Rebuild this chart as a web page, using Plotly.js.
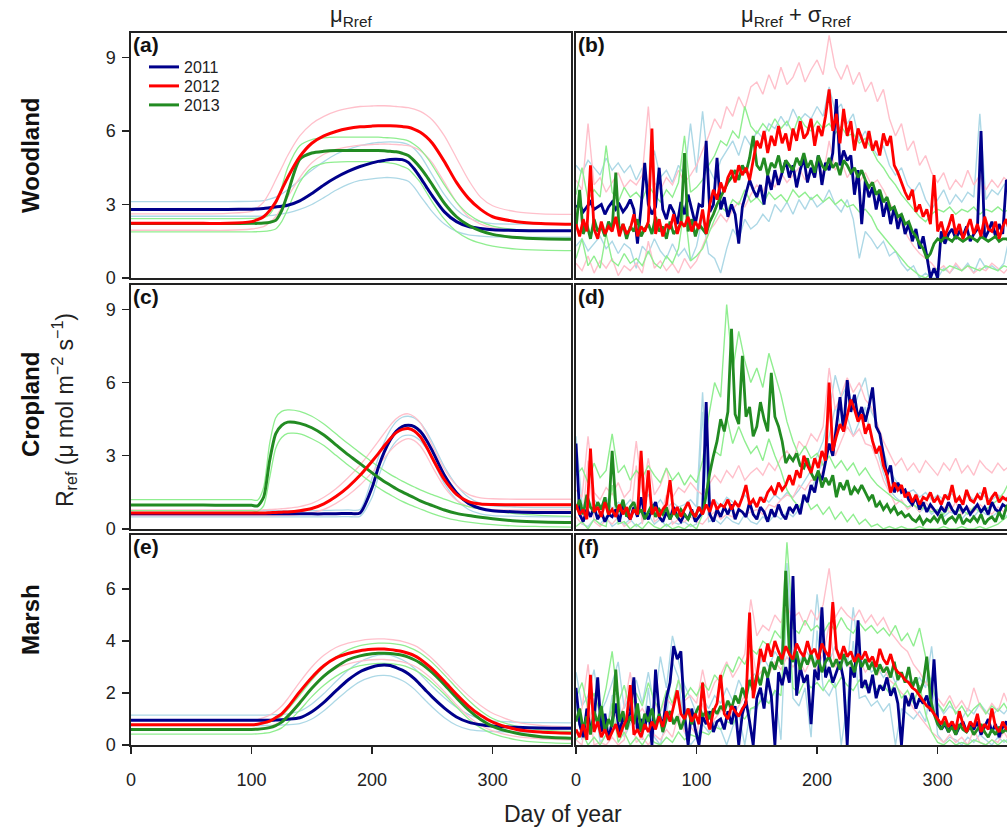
<!DOCTYPE html>
<html><head><meta charset="utf-8">
<script src="https://cdn.plot.ly/plotly-3.0.1.min.js"></script>
<style>html,body{margin:0;padding:0;overflow:hidden;background:#fff}#chart{width:1020px;height:831px}</style>
</head><body><div id="chart"></div>
<script>
const YEARS = ['2011', '2012', '2013'];
const YEAR_COLORS = ['#00008B', '#FF0000', '#228B22'];
const BAND_COLORS = ['#ADD8E6', '#FFC0CB', '#90EE90'];
const X_TICKS = [0, 100, 200, 300];

// ---------- smooth (mu_Rref) curves, day grid ----------
const DAYS_SMOOTH = [0,20,40,60,80,100,105,110,115,120,125,130,140,150,160,170,180,190,200,205,210,215,220,225,230,235,240,245,250,260,270,280,290,300,320,340,365];

// Woodland (a)
const woodMu2011   = [2.80,2.80,2.80,2.80,2.80,2.81, 2.82,2.84,2.87,2.90,2.93,2.97, 3.15,3.45,3.80,4.10,4.35,4.55,4.70, 4.76,4.80,4.84,4.85,4.83,4.72,4.45,4.10,3.72,3.35, 2.70,2.30,2.10,2.02,1.97, 1.94,1.93,1.93];
const woodMu2011Hi = [3.12,3.12,3.12,3.12,3.12,3.13, 3.14,3.16,3.22,3.30,3.43,3.60, 4.00,4.40,4.75,5.05,5.25,5.40,5.50, 5.53,5.55,5.56,5.55,5.52,5.45,5.28,5.00,4.62,4.20, 3.40,2.80,2.45,2.30,2.22, 2.20,2.20,2.20];
const woodMu2011Lo = [2.52,2.52,2.52,2.52,2.52,2.52, 2.52,2.53,2.55,2.58,2.62,2.66, 2.80,3.00,3.28,3.58,3.82,3.98,4.05, 4.08,4.10,4.10,4.08,4.03,3.95,3.70,3.35,3.02,2.70, 2.20,1.90,1.76,1.71,1.68, 1.67,1.67,1.67];
const woodMu2012   = [2.23,2.23,2.23,2.23,2.23,2.30, 2.38,2.50,2.75,3.10,3.60,4.10, 4.95,5.50,5.80,5.98,6.10,6.17,6.20, 6.21,6.21,6.21,6.20,6.18,6.15,6.07,5.95,5.76,5.50, 4.75,3.90,3.25,2.80,2.50, 2.30,2.22,2.19];
const woodMu2012Hi = [2.62,2.62,2.62,2.62,2.64,2.72, 2.88,3.10,3.50,4.00,4.50,5.00, 5.80,6.30,6.60,6.80,6.92,7.00,7.02, 7.03,7.03,7.02,7.00,6.98,6.95,6.89,6.80,6.65,6.45, 5.80,4.90,4.00,3.30,2.95, 2.70,2.62,2.60];
const woodMu2012Lo = [1.95,1.95,1.95,1.95,1.95,2.00, 2.04,2.10,2.26,2.50,2.88,3.30, 4.10,4.70,5.05,5.25,5.35,5.42,5.45, 5.46,5.47,5.46,5.45,5.43,5.40,5.32,5.20,4.98,4.70, 3.90,3.10,2.50,2.20,2.05, 1.95,1.92,1.90];
const woodMu2013   = [2.22,2.22,2.22,2.22,2.22,2.23, 2.23,2.24,2.27,2.35,2.75,3.45, 4.85,5.10,5.17,5.20,5.20,5.20,5.20, 5.20,5.19,5.17,5.15,5.09,5.00,4.78,4.50,4.17,3.80, 3.05,2.50,2.15,1.92,1.78, 1.65,1.60,1.58];
const woodMu2013Hi = [2.42,2.42,2.42,2.42,2.42,2.43, 2.44,2.46,2.60,3.00,3.70,4.50, 5.40,5.65,5.72,5.75,5.75,5.75,5.75, 5.75,5.73,5.72,5.70,5.66,5.60,5.45,5.25,4.95,4.60, 3.80,3.10,2.60,2.30,2.12, 1.97,1.92,1.90];
const woodMu2013Lo = [1.88,1.88,1.88,1.88,1.88,1.88, 1.89,1.90,1.93,2.00,2.30,2.80, 3.90,4.50,4.68,4.73,4.75,4.75,4.75, 4.74,4.72,4.69,4.65,4.56,4.45,4.20,3.90,3.50,3.10, 2.40,1.90,1.60,1.42,1.30, 1.18,1.14,1.12];

// Cropland (c)
const cropMu2011   = [0.62,0.62,0.62,0.62,0.62,0.62, 0.62,0.62,0.62,0.62,0.62,0.62, 0.62,0.62,0.62,0.63,0.64,0.66,1.70, 2.50,3.15,3.65,4.00,4.20,4.25,4.20,4.00,3.65,3.20, 2.20,1.49,1.05,0.84,0.75, 0.70,0.68,0.68];
const cropMu2011Hi = [0.75,0.75,0.75,0.75,0.75,0.75, 0.75,0.75,0.75,0.75,0.75,0.75, 0.75,0.75,0.76,0.77,0.78,0.80,2.10, 2.90,3.55,4.05,4.40,4.58,4.62,4.55,4.35,4.00,3.55, 2.55,1.80,1.30,1.05,0.95, 0.90,0.88,0.88];
const cropMu2011Lo = [0.50,0.50,0.50,0.50,0.50,0.50, 0.50,0.50,0.50,0.50,0.50,0.50, 0.50,0.50,0.50,0.50,0.51,0.52,1.30, 2.10,2.75,3.25,3.60,3.80,3.85,3.80,3.62,3.30,2.85, 1.85,1.20,0.80,0.62,0.55, 0.52,0.50,0.50];
const cropMu2012   = [0.66,0.66,0.66,0.66,0.66,0.66, 0.66,0.66,0.67,0.68,0.69,0.70, 0.75,0.84,1.03,1.33,1.72,2.20,2.78, 3.08,3.40,3.70,3.95,4.08,4.12,4.02,3.78,3.38,2.90, 2.02,1.42,1.12,1.02,1.00, 0.99,0.99,0.99];
const cropMu2012Hi = [0.78,0.78,0.78,0.78,0.78,0.78, 0.78,0.79,0.80,0.81,0.83,0.85, 0.92,1.05,1.30,1.65,2.10,2.62,3.25, 3.58,3.92,4.25,4.52,4.68,4.72,4.60,4.35,3.92,3.42, 2.45,1.78,1.42,1.28,1.24, 1.22,1.22,1.22];
const cropMu2012Lo = [0.55,0.55,0.55,0.55,0.55,0.55, 0.55,0.55,0.55,0.55,0.56,0.56, 0.60,0.66,0.80,1.05,1.38,1.80,2.32, 2.60,2.90,3.20,3.45,3.62,3.70,3.62,3.40,3.02,2.55, 1.72,1.18,0.92,0.82,0.79, 0.78,0.78,0.78];
const cropMu2013   = [0.98,0.98,0.98,0.98,0.97,0.97, 0.95,1.30,2.80,3.90,4.25,4.38, 4.33,4.15,3.85,3.45,3.05,2.68,2.30, 2.12,1.95,1.80,1.65,1.52,1.40,1.28,1.15,1.05,0.96, 0.78,0.64,0.55,0.48,0.42, 0.33,0.29,0.27];
const cropMu2013Hi = [1.20,1.20,1.20,1.20,1.20,1.20, 1.18,1.70,3.50,4.55,4.82,4.88, 4.82,4.62,4.30,3.90,3.50,3.12,2.75, 2.57,2.40,2.24,2.10,1.96,1.84,1.72,1.60,1.50,1.41, 1.22,1.05,0.92,0.82,0.74, 0.62,0.56,0.52];
const cropMu2013Lo = [0.75,0.75,0.75,0.75,0.75,0.75, 0.73,0.95,2.10,3.30,3.75,3.92, 3.90,3.70,3.42,3.02,2.62,2.25,1.88, 1.70,1.54,1.40,1.26,1.13,1.02,0.92,0.82,0.72,0.63, 0.48,0.36,0.28,0.22,0.18, 0.12,0.10,0.08];

// Marsh (e)
const marshMu2011   = [0.95,0.95,0.95,0.95,0.95,0.95, 0.95,0.95,0.95,0.96,0.97,0.99, 1.05,1.28,1.64,2.08,2.50,2.82,3.00, 3.06,3.08,3.06,2.98,2.88,2.74,2.55,2.32,2.08,1.84, 1.42,1.08,0.88,0.78,0.73, 0.68,0.65,0.64];
const marshMu2011Hi = [1.15,1.15,1.15,1.15,1.15,1.15, 1.15,1.15,1.16,1.17,1.18,1.20, 1.30,1.58,1.98,2.44,2.88,3.20,3.40, 3.46,3.48,3.46,3.38,3.28,3.14,2.95,2.72,2.48,2.24, 1.82,1.45,1.18,1.00,0.93, 0.88,0.86,0.85];
const marshMu2011Lo = [0.75,0.75,0.75,0.75,0.75,0.75, 0.75,0.75,0.75,0.76,0.77,0.78, 0.82,1.00,1.32,1.72,2.12,2.44,2.62, 2.67,2.68,2.66,2.58,2.48,2.34,2.15,1.92,1.68,1.45, 1.05,0.76,0.60,0.54,0.52, 0.50,0.48,0.46];
const marshMu2012   = [0.78,0.78,0.78,0.78,0.78,0.78, 0.80,0.85,0.92,1.05,1.20,1.45, 2.05,2.60,3.05,3.35,3.52,3.63,3.68, 3.69,3.69,3.67,3.64,3.60,3.53,3.44,3.30,3.12,2.92, 2.45,1.95,1.50,1.14,0.88, 0.60,0.50,0.45];
const marshMu2012Hi = [0.95,0.95,0.95,0.95,0.95,0.95, 0.98,1.05,1.15,1.30,1.50,1.78, 2.42,3.00,3.45,3.75,3.92,4.02,4.07, 4.08,4.08,4.06,4.03,3.99,3.92,3.83,3.70,3.52,3.32, 2.85,2.35,1.90,1.52,1.22, 0.88,0.75,0.70];
const marshMu2012Lo = [0.60,0.60,0.60,0.60,0.60,0.60, 0.62,0.66,0.70,0.80,0.92,1.12, 1.68,2.20,2.65,2.95,3.12,3.23,3.28, 3.29,3.29,3.27,3.24,3.20,3.13,3.04,2.90,2.72,2.52, 2.05,1.55,1.10,0.76,0.54, 0.32,0.24,0.20];
const marshMu2013   = [0.60,0.60,0.60,0.60,0.60,0.60, 0.61,0.63,0.67,0.75,0.88,1.10, 1.62,2.18,2.65,3.00,3.28,3.43,3.51, 3.53,3.53,3.52,3.49,3.45,3.38,3.28,3.15,2.98,2.78, 2.32,1.82,1.35,0.98,0.72, 0.45,0.32,0.26];
const marshMu2013Hi = [0.78,0.78,0.78,0.78,0.78,0.78, 0.80,0.83,0.88,0.98,1.12,1.36, 1.92,2.50,3.00,3.38,3.66,3.82,3.90, 3.92,3.92,3.91,3.88,3.84,3.77,3.67,3.54,3.37,3.17, 2.70,2.20,1.72,1.32,1.02, 0.72,0.58,0.52];
const marshMu2013Lo = [0.42,0.42,0.42,0.42,0.42,0.42, 0.43,0.45,0.48,0.55,0.66,0.86, 1.34,1.86,2.30,2.64,2.90,3.05,3.12, 3.14,3.14,3.13,3.10,3.06,2.99,2.89,2.76,2.59,2.39, 1.95,1.46,1.00,0.66,0.44, 0.20,0.10,0.06];

// ---------- daily (mu + sigma) series ----------
const DAILY_STEP = 3;   // bold series: every 3rd day, 0..363
const BAND_STEP = 5;    // light series: every 5th day, 0..365

// Woodland (b)
const woodDay2011 = [2.9,3.0,2.7,2.9,3.1,2.8,2.9,3.0,2.6,2.9, 3.1,2.8,3.0,2.7,2.9,3.2,2.8,1.4,2.9,4.7, 3.0,2.6,2.9,4.5,2.8,2.4,3.0,2.7,2.2,3.1, 2.6,3.4,2.8,2.2,3.0,2.9,5.6,2.7,3.0,4.9, 2.8,3.3,2.5,3.0,2.6,1.4,2.9,3.4,4.0,3.6, 3.3,3.8,3.0,4.2,3.6,4.4,3.8,4.3,4.8,4.1, 4.6,3.7,4.4,4.9,3.9,4.5,4.1,5.0,3.8,4.7, 4.4,5.1,7.3,4.6,5.2,4.8,5.0,3.4,4.4,2.2, 4.0,3.3,3.7,2.8,3.5,2.5,3.1,2.2,2.9,2.0, 2.6,1.8,2.2,1.5,2.0,1.2,1.7,0.9,0.0,0.4, 0.0,1.9,1.4,1.8,2.0,1.6,1.9,1.7,2.1,1.5, 1.8,2.0,6.0,1.6,1.9,2.3,1.7,2.2,1.8,4.0, 3.8,2.6];
const woodDay2012 = [2.2,1.7,2.4,1.9,4.6,2.0,1.6,2.3,1.8,2.1, 1.9,2.5,1.7,2.2,1.8,2.0,2.6,1.7,2.1,1.9, 2.3,6.1,1.8,2.4,1.7,2.2,2.0,2.6,1.8,2.3, 2.1,2.5,1.9,2.3,2.0,2.8,1.8,3.0,3.6,3.2, 3.9,3.5,4.1,4.4,3.9,4.6,4.2,4.5,4.0,4.8, 5.6,5.3,6.0,5.1,5.8,5.4,6.2,5.5,5.9,5.2, 6.1,5.6,6.4,5.7,5.9,6.5,5.4,6.2,5.8,6.6, 7.7,6.0,6.7,5.5,6.9,5.8,6.4,5.2,6.1,5.7, 5.3,6.0,5.2,5.6,5.0,5.9,5.4,5.8,4.6,4.3, 3.9,3.5,3.2,3.6,2.7,3.0,2.5,2.8,2.2,4.2, 1.9,2.3,1.7,2.1,2.6,1.8,2.2,1.6,2.0,2.4, 1.8,2.2,1.7,2.5,2.0,1.9,2.3,1.6,2.1,2.4, 1.8,2.2];
const woodDay2013 = [2.0,3.6,1.8,2.2,1.6,2.4,1.9,2.1,1.7,2.3, 2.0,4.3,1.8,2.2,1.6,2.1,1.9,2.4,1.7,2.0, 2.2,1.8,2.5,1.9,2.1,1.6,2.3,1.8,2.0,2.2, 5.1,1.9,2.4,1.7,2.2,2.0,1.8,2.3,2.6,3.0, 3.3,3.6,3.9,4.1,4.4,4.0,4.6,4.3,4.9,5.8, 4.6,4.4,4.9,4.2,4.7,4.5,5.0,4.3,4.8,4.6, 4.4,4.9,4.6,5.1,4.5,4.8,4.3,5.0,4.6,4.4, 4.9,4.5,4.7,4.2,4.8,4.6,4.3,4.5,4.1,4.4, 4.0,3.7,3.9,3.4,3.6,3.1,3.3,2.8,2.9,2.5, 2.6,2.2,2.3,1.9,1.7,1.4,1.2,0.8,1.0,1.4, 1.6,1.5,1.7,1.6,1.5,1.7,1.6,1.5,1.6,1.7, 1.6,1.5,1.7,1.6,1.5,1.6,1.7,1.5,1.6,1.6, 1.5,1.6];
const woodDay2011Hi = [4.6,4.3,4.8,4.5,4.2,4.9,4.4,4.7,4.3,4.6, 4.0,4.5,3.8,5.2,4.1,4.4,3.9,4.6,4.2,6.3, 4.3,6.8,4.5,4.0,4.8,5.2,5.6,5.0,5.8,5.4, 6.0,5.7,6.3,6.1,6.6,6.2,6.9,6.4,6.7,6.5, 7.0,6.6,7.8,6.8,7.1,6.3,6.7,5.6,6.0,5.4, 5.0,5.4,4.6,4.2,4.5,3.8,3.5,3.9,3.2,2.8, 3.2,3.6,3.0,3.4,3.1,3.5,3.3,6.7,3.2,3.6, 3.4,3.8,4.0,3.6];
const woodDay2011Lo = [1.3,1.6,1.1,1.4,1.7,1.2,1.5,1.0,1.4,1.2, 0.4,1.3,1.0,1.6,1.1,0.8,1.4,0.9,1.2,0.7, 1.3,2.5,1.0,0.8,0.2,1.2,2.0,1.6,2.4,2.0, 2.2,2.6,2.3,3.0,2.7,3.1,2.6,3.2,2.8,3.3, 2.9,3.1,3.6,3.0,2.7,3.2,2.4,0.8,1.9,1.6, 1.2,1.5,0.9,1.1,0.6,0.3,0.5,0.0,0.2,0.0, 0.0,0.4,0.2,0.5,0.3,0.6,0.2,0.8,0.4,0.5, 0.3,0.6,1.8,1.0];
const woodDay2012Hi = [4.0,3.6,6.3,3.8,4.1,3.5,3.9,4.3,3.7,4.0, 3.8,4.2,7.0,3.9,3.6,4.1,3.8,4.4,3.9,4.2, 4.6,5.2,5.8,6.5,6.1,7.0,6.6,7.4,6.9,7.8, 8.0,7.5,8.3,7.7,8.6,7.9,8.2,8.8,8.0,8.5, 8.9,8.3,9.9,8.6,8.1,8.7,7.9,8.4,7.6,8.0, 7.2,7.7,6.5,5.8,6.3,5.2,5.6,4.6,5.0,4.3, 3.9,4.3,3.6,4.0,3.7,4.4,3.8,4.2,3.6,4.0, 3.7,4.1,3.9,3.6];
const woodDay2012Lo = [0.6,0.3,0.9,0.2,0.7,0.4,0.8,0.1,0.5,0.3, 0.6,0.2,1.5,0.4,0.7,0.3,0.6,0.2,0.8,0.4, 0.7,1.3,1.9,2.2,2.6,2.3,2.8,3.1,2.9,3.4, 3.8,3.5,4.1,3.7,4.3,3.9,4.2,4.5,4.0,4.4, 4.7,4.2,5.6,4.4,4.8,4.1,4.5,3.9,4.3,3.8, 4.0,3.6,3.1,2.6,2.2,1.7,1.3,1.0,0.8,0.6, 0.3,0.5,0.2,0.6,0.3,0.5,0.2,0.4,0.3,0.6, 0.4,0.2,0.5,0.3];
const woodDay2013Hi = [3.4,4.5,3.2,3.6,3.3,5.4,3.5,3.1,3.7,3.3, 3.5,3.2,3.8,3.4,3.1,3.6,3.3,3.9,5.8,3.5, 3.7,4.0,4.6,5.0,5.6,5.4,6.0,5.7,7.0,6.2, 5.9,6.3,6.0,6.5,6.1,6.4,5.9,6.6,6.2,6.0, 6.4,6.1,6.3,5.9,6.2,5.8,5.9,5.5,5.7,5.3, 4.8,4.5,4.1,3.8,3.4,3.1,2.8,2.5,2.3,2.6, 2.8,2.7,2.9,2.6,2.8,2.7,2.9,2.6,2.8,2.7, 2.9,2.7,2.8,2.6];
const woodDay2013Lo = [0.8,1.6,0.5,0.9,0.4,1.8,0.7,0.5,1.0,0.6, 0.8,0.5,1.1,0.6,0.4,0.9,0.6,1.2,2.9,0.7, 0.9,1.2,1.8,2.4,2.9,2.7,3.2,3.0,3.6,3.1, 3.3,3.0,3.5,3.2,3.4,3.1,3.6,3.3,3.5,3.2, 3.4,3.1,3.3,3.0,3.2,2.9,3.0,2.7,2.8,2.5, 2.0,1.7,1.4,1.1,0.8,0.5,0.3,0.1,0.0,0.2, 0.4,0.3,0.5,0.4,0.3,0.5,0.4,0.3,0.5,0.4, 0.3,0.5,0.4,0.3];

// Cropland (d)
const cropDay2011 = [3.5,0.6,0.3,0.8,0.5,0.9,0.4,0.7,0.3,0.6, 0.5,0.8,0.3,1.0,0.6,0.4,0.9,0.5,1.3,0.6, 0.4,0.8,1.1,0.5,0.3,0.7,0.4,0.9,0.5,0.3, 0.6,0.4,0.8,0.3,0.5,0.7,5.2,0.6,0.3,0.8, 0.5,0.9,0.6,1.0,0.4,0.8,0.7,0.5,1.1,0.6, 0.4,0.9,0.7,0.3,0.8,0.5,1.0,0.6,0.4,0.9, 0.7,1.0,0.6,1.4,1.1,1.8,1.5,2.3,2.0,2.8, 3.5,3.0,4.3,5.4,4.0,6.1,4.8,5.5,4.5,5.0, 4.4,5.0,5.8,4.2,3.9,3.0,2.2,2.6,1.5,1.9, 1.5,1.6,1.2,1.0,1.3,0.8,1.1,0.7,1.0,0.8, 0.6,0.9,0.7,1.1,0.8,0.6,1.0,0.7,0.9,0.6, 0.8,1.0,0.7,0.9,0.6,1.1,0.8,0.7,1.0,0.9, 0.6,0.8];
const cropDay2012 = [1.0,0.6,0.8,0.4,3.3,0.7,0.9,0.5,1.1,0.6, 0.8,0.5,1.0,0.6,0.9,0.4,0.8,0.6,3.2,0.7, 2.4,0.6,0.9,0.5,0.8,1.0,2.0,0.6,0.9,0.5, 0.8,1.1,0.7,0.5,0.9,0.6,1.0,0.7,1.2,0.8, 1.0,0.9,1.2,0.8,1.1,0.9,1.3,1.8,1.0,1.2, 0.9,1.3,1.1,1.5,1.7,1.4,1.9,1.6,1.8,2.2, 1.8,2.4,2.1,3.0,2.6,2.3,2.9,2.5,3.2,2.8, 6.0,3.2,3.8,4.3,4.0,4.7,5.3,4.9,4.4,4.7, 3.9,4.3,3.6,3.1,3.4,2.6,2.2,1.5,1.9,1.6, 1.8,1.3,1.5,1.1,1.4,1.0,1.3,1.2,1.5,1.1, 1.3,1.0,1.4,1.2,1.8,1.1,1.3,1.0,1.6,1.2, 1.1,1.4,1.2,1.7,1.0,1.3,1.5,1.1,1.3,1.2, 1.4,1.1];
const cropDay2013 = [0.8,1.2,0.6,1.4,0.9,0.7,1.1,0.8,1.3,0.6, 3.2,1.0,0.7,1.2,0.5,0.9,1.1,0.6,0.8,0.4, 0.7,1.0,0.5,0.8,0.6,0.9,0.4,0.7,0.5,0.8, 0.6,0.4,0.7,0.5,0.9,0.6,1.4,2.3,3.0,3.6, 4.5,4.0,4.8,8.2,4.7,4.3,7.1,4.6,5.0,3.8, 4.2,5.2,4.5,4.0,6.4,4.6,4.2,3.6,2.7,3.0, 2.8,3.1,2.6,2.5,2.9,2.3,2.0,2.4,1.7,2.1, 1.8,2.2,1.3,1.9,1.6,2.0,1.4,1.7,1.5,1.8, 1.5,1.2,1.4,0.9,1.1,0.8,1.0,0.7,0.9,0.6, 0.7,0.5,0.6,0.4,0.3,0.5,0.2,0.4,0.3,0.5, 0.3,0.6,0.2,0.4,0.5,0.3,0.6,0.2,0.4,0.3, 0.5,0.3,0.6,0.2,0.4,0.5,0.3,0.7,0.4,0.9, 1.1,1.4];
const cropDay2011Hi = [3.8,1.0,0.8,1.2,0.9,1.3,0.8,1.1,0.9,1.2, 0.8,1.1,1.4,0.9,1.2,0.8,1.1,0.9,1.0,1.2, 0.9,5.6,1.0,1.2,0.9,1.3,1.1,1.0,1.4,1.1, 1.0,1.3,1.1,1.4,1.2,1.5,1.3,1.6,2.0,2.4, 3.0,3.6,4.8,6.3,5.4,5.9,4.9,5.6,6.2,4.8, 4.3,3.2,2.4,2.0,1.7,1.5,1.6,1.3,1.5,1.2, 1.4,1.2,1.5,1.3,1.1,1.4,1.2,1.5,1.3,1.2, 1.4,1.2,1.3,1.1];
const cropDay2011Lo = [3.0,0.2,0.1,0.4,0.2,0.5,0.1,0.3,0.2,0.4, 0.1,0.3,0.6,0.2,0.4,0.1,0.3,0.2,0.3,0.1, 0.2,4.8,0.3,0.4,0.2,0.5,0.3,0.2,0.6,0.3, 0.2,0.5,0.3,0.6,0.4,0.7,0.5,0.8,1.2,1.6, 2.2,2.8,3.8,5.0,4.2,4.6,3.8,4.4,5.0,3.7, 3.2,2.3,1.6,1.3,1.1,0.9,1.0,0.7,0.9,0.6, 0.8,0.5,0.7,0.6,0.4,0.7,0.5,0.8,0.6,0.5, 0.7,0.5,0.6,0.4];
const cropDay2012Hi = [1.6,1.3,3.8,1.5,1.2,1.7,1.4,1.9,1.3,1.6, 3.6,1.5,2.9,1.4,1.8,2.5,1.3,1.7,1.5,1.9, 1.6,1.4,1.8,2.2,1.9,2.4,2.1,2.6,2.0,2.3, 2.5,2.2,2.7,2.4,2.9,3.2,2.8,3.6,3.3,3.9, 3.6,4.2,6.6,4.9,5.5,6.2,5.6,6.0,5.3,5.0, 4.3,3.6,3.1,2.6,2.9,2.4,2.7,2.3,2.8,2.5, 2.2,2.7,2.4,2.9,2.3,2.6,2.2,2.8,2.5,2.3, 2.7,2.4,2.6,2.2];
const cropDay2012Lo = [0.5,0.2,2.8,0.3,0.1,0.4,0.2,0.5,0.1,0.3, 2.6,0.2,1.8,0.3,0.5,1.4,0.2,0.4,0.3,0.5, 0.3,0.2,0.5,0.7,0.4,0.6,0.5,0.8,0.6,0.7, 0.8,0.6,1.0,0.9,1.2,1.4,1.3,1.8,1.6,2.0, 2.0,2.4,4.8,3.0,3.6,4.2,3.8,4.1,3.5,3.4, 2.8,2.0,1.5,1.0,1.2,0.8,1.0,0.7,1.1,0.8, 0.6,0.9,0.7,1.1,0.6,0.9,0.7,1.0,0.8,0.6, 0.9,0.7,0.8,0.6];
const cropDay2013Hi = [2.2,2.5,1.9,2.7,2.1,2.4,3.9,2.3,2.6,2.0, 2.4,2.1,2.6,2.2,1.9,2.5,2.0,2.3,1.8,2.2, 1.9,2.8,4.6,6.0,5.4,9.2,6.5,8.1,6.9,6.0, 6.6,5.8,7.2,6.3,5.5,4.4,3.6,3.0,3.4,2.9, 3.1,2.6,3.0,2.5,2.8,2.4,2.7,2.2,2.5,2.1, 1.8,1.6,1.4,1.2,1.1,0.9,1.0,0.8,0.9,0.7, 0.8,0.6,0.9,0.7,0.8,0.6,0.9,0.7,0.8,1.0, 1.2,1.5,2.0,2.4];
const cropDay2013Lo = [0.1,0.3,0.0,0.4,0.2,0.1,1.8,0.2,0.3,0.0, 0.2,0.0,0.3,0.1,0.0,0.2,0.0,0.1,0.0,0.2, 0.0,0.6,2.2,3.2,3.0,4.6,3.5,4.2,3.6,3.1, 3.4,2.8,3.7,3.0,2.4,1.6,1.2,0.9,1.3,0.8, 1.0,0.6,0.9,0.4,0.7,0.3,0.6,0.2,0.4,0.1, 0.2,0.0,0.1,0.0,0.1,0.0,0.0,0.1,0.0,0.0, 0.0,0.1,0.0,0.0,0.1,0.0,0.0,0.1,0.0,0.1, 0.2,0.4,0.6,0.9];

// Marsh (f)
const marshDay2011 = [2.2,0.8,0.3,1.4,0.6,1.0,2.6,0.5,1.2,0.2, 0.9,1.6,0.4,1.1,0.7,1.3,2.6,0.5,1.0,0.6, 1.5,0.0,2.9,1.2,0.7,1.8,2.4,3.8,3.3,3.6, 1.2,0.0,1.4,0.6,0.0,1.1,0.8,1.3,0.5,0.9, 1.0,0.6,1.3,0.8,1.5,0.0,1.2,1.7,0.9,0.0, 1.8,2.2,1.4,2.6,1.9,0.0,2.8,2.3,3.0,2.4, 6.5,1.9,3.0,2.4,2.7,0.8,2.9,2.5,5.3,2.6, 3.0,2.4,2.8,3.2,2.5,0.0,3.0,2.6,4.8,2.2, 2.5,2.0,2.7,1.8,2.3,2.1,2.6,1.9,2.2,1.6, 0.0,1.9,1.5,2.0,1.4,1.8,1.6,1.9,1.3,3.3, 1.0,0.6,0.8,0.5,0.9,0.4,0.7,0.9,0.5,0.8, 0.6,0.9,0.4,0.7,1.0,0.5,0.8,0.3,0.7,0.9, 0.5,0.6];
const marshDay2012 = [0.6,0.3,0.8,0.2,2.7,0.5,0.9,0.3,0.6,0.2, 0.5,0.8,0.3,0.7,1.0,2.3,0.4,0.6,0.3,0.8, 0.5,0.9,0.6,1.1,0.7,1.3,0.9,1.5,2.1,1.2, 1.0,1.4,0.9,1.2,0.8,2.4,1.1,0.6,1.3,1.6, 2.7,1.2,1.0,1.5,1.3,1.1,1.4,1.6,5.1,1.8, 2.6,3.7,3.2,3.9,3.4,4.0,3.6,3.3,3.8,3.5, 3.3,3.9,3.6,3.4,4.0,3.5,3.7,3.3,3.9,3.6, 3.4,5.5,3.7,3.3,3.8,3.4,3.6,3.2,3.5,3.3, 3.6,3.2,3.4,3.0,3.7,3.3,3.1,3.5,3.0,2.8, 2.7,2.5,2.4,2.2,2.1,1.9,1.7,1.5,1.4,1.2, 1.0,0.8,1.1,0.7,0.9,0.6,1.3,0.8,0.5,0.9, 0.7,1.2,0.5,0.8,0.6,1.4,0.7,0.5,0.9,0.6, 0.8,0.5];
const marshDay2013 = [0.9,1.4,0.6,1.1,0.4,1.3,0.8,1.5,0.5,1.0, 0.7,2.9,0.9,1.3,0.6,1.1,0.8,1.6,0.5,1.2, 0.9,1.4,0.7,1.2,0.5,1.0,1.3,0.8,1.1,0.6, 1.0,1.4,0.8,1.2,1.5,1.1,1.3,1.0,1.4,1.2, 1.5,1.3,1.7,1.4,1.9,1.6,2.2,1.8,2.5,2.1, 2.7,2.3,3.0,2.6,3.2,2.9,3.4,3.1,6.7,3.5, 3.2,3.6,2.9,3.4,3.1,3.5,3.0,3.3,2.8,3.2, 3.4,3.0,3.3,2.9,3.5,3.1,3.2,2.8,3.4,3.0, 3.3,2.9,3.2,2.7,3.1,2.8,3.0,2.6,3.2,2.5, 2.8,2.4,3.0,2.2,2.6,2.0,2.4,3.4,1.8,1.2, 0.8,0.6,0.9,0.5,0.7,0.4,0.8,0.6,0.5,0.7, 0.4,0.6,0.8,0.5,0.3,0.6,0.4,0.7,0.5,0.6, 0.4,0.5];
const marshDay2011Hi = [2.8,1.5,1.9,2.9,1.2,1.7,2.4,3.2,1.4,2.0, 2.5,1.6,2.8,1.5,3.4,2.2,4.2,3.3,2.3,1.8, 1.2,1.8,1.4,1.9,1.6,2.2,1.7,2.5,2.0,2.6, 2.8,3.4,3.0,3.6,3.2,7.0,3.4,3.1,3.7,3.3, 5.8,3.5,3.2,3.8,3.4,3.0,5.3,3.1,3.3,2.8, 3.0,2.6,2.9,2.4,2.7,2.5,2.3,2.6,2.2,3.8, 1.6,1.2,1.5,1.3,1.0,1.4,1.2,1.6,1.3,1.1, 1.4,1.2,1.5,1.3];
const marshDay2011Lo = [1.6,0.2,0.5,1.8,0.1,0.4,1.9,2.0,0.3,0.8, 1.3,0.2,2.2,0.3,0.0,1.0,3.2,2.6,0.5,0.0, 0.3,0.8,0.5,0.9,0.6,0.0,0.7,1.2,0.0,1.4, 1.4,2.0,1.6,2.1,0.2,5.6,1.8,1.5,2.2,0.3, 4.4,2.2,1.9,2.4,0.0,1.6,4.0,1.8,1.9,1.5, 1.7,1.3,1.6,0.0,1.4,1.2,1.0,1.3,0.9,2.6, 0.4,0.1,0.3,0.2,0.0,0.3,0.1,0.4,0.2,0.0, 0.3,0.1,0.3,0.2];
const marshDay2012Hi = [1.0,1.4,3.1,0.9,1.2,0.8,1.3,1.0,1.5,2.8, 1.1,1.4,1.0,1.6,1.3,1.8,1.5,2.5,1.7,1.9, 1.6,2.9,1.8,2.4,2.7,3.2,2.6,3.0,3.5,5.6, 4.2,4.6,4.4,5.0,4.7,5.3,4.9,5.1,4.6,5.2, 4.8,5.4,6.8,4.9,5.3,5.0,4.8,5.2,4.7,5.0, 4.6,4.9,4.4,4.1,3.8,3.6,3.1,2.8,2.4,2.1, 1.8,1.5,1.9,1.4,1.7,1.3,2.2,1.5,1.2,1.6, 1.3,2.0,1.4,1.2];
const marshDay2012Lo = [0.2,0.0,1.8,0.0,0.1,0.0,0.3,0.0,0.2,1.4, 0.1,0.3,0.0,0.4,0.2,0.6,0.3,1.2,0.5,0.7, 0.4,1.6,0.6,1.0,1.3,1.7,1.1,1.5,1.9,4.0, 2.6,2.9,2.7,3.2,2.9,3.4,3.0,3.3,2.8,3.3, 2.9,3.5,4.6,3.0,3.4,3.1,2.9,3.3,2.8,3.1, 2.7,3.0,2.5,2.3,2.0,1.8,1.4,1.1,0.8,0.5, 0.3,0.1,0.4,0.1,0.3,0.0,0.6,0.1,0.0,0.2, 0.1,0.5,0.1,0.0];
const marshDay2013Hi = [1.8,2.4,1.4,2.0,1.2,2.2,3.6,1.6,2.3,1.3, 2.0,1.5,2.4,1.7,1.3,2.1,1.6,2.5,1.8,2.2, 1.9,2.4,2.1,2.7,2.4,3.1,2.8,3.4,3.1,3.7, 3.5,4.0,3.8,4.4,4.1,7.8,4.5,4.3,4.8,4.4, 4.6,4.3,4.7,4.4,4.9,4.5,4.3,4.7,4.4,4.6, 4.3,4.5,4.2,4.6,4.0,4.3,3.8,4.5,3.4,2.3, 1.6,1.3,1.7,1.2,1.5,1.1,1.4,1.6,1.2,1.5, 1.3,1.6,1.2,1.4];
const marshDay2013Lo = [0.2,0.5,0.0,0.3,0.0,0.4,1.6,0.1,0.5,0.0, 0.3,0.0,0.4,0.1,0.0,0.3,0.1,0.5,0.2,0.4, 0.3,0.5,0.4,0.7,0.6,0.9,0.8,1.2,1.0,1.4, 1.5,1.8,1.6,2.1,1.9,5.5,2.2,2.0,2.5,2.2, 2.4,2.1,2.5,2.2,2.6,2.3,2.1,2.5,2.2,2.4, 2.1,2.3,2.0,2.4,1.8,2.1,1.6,2.3,1.2,0.5, 0.1,0.0,0.2,0.0,0.1,0.0,0.2,0.1,0.0,0.2, 0.0,0.2,0.0,0.1];

// ---------- build ----------
const FONT = 'Arial, "Liberation Sans", Helvetica, sans-serif';
const W = 1020, H = 831;
const px = v => v / W, py = v => 1 - v / H;
const traces = [];
const LEGEND_IDS = ['legend', 'legend2', 'legend3'];

function daysOf(vals, step) { return vals.map((_, i) => Math.min(i * step, 365)); }

function addPanel(ax, mus, his, los, xMu, xBand, smooth, legend) {
  const shape = smooth ? 'spline' : 'linear';
  for (let k = 0; k < 3; k++) {
    [his[k], los[k]].forEach(v => traces.push({
      x: xBand(v), y: v, xaxis: 'x' + ax, yaxis: 'y' + ax, mode: 'lines',
      line: {color: BAND_COLORS[k], width: smooth ? 1.3 : 1.4, shape: shape, smoothing: 0.7},
      showlegend: false, hoverinfo: 'skip'
    }));
  }
  [0, 2, 1].forEach(k => traces.push({
    x: xMu(mus[k]), y: mus[k], xaxis: 'x' + ax, yaxis: 'y' + ax, mode: 'lines',
    name: YEARS[k], legend: LEGEND_IDS[k],
    line: {color: YEAR_COLORS[k], width: smooth ? 3 : 2.8, shape: shape, smoothing: 0.7},
    showlegend: legend
  }));
}
const smoothX = () => DAYS_SMOOTH;
addPanel('', [woodMu2011, woodMu2012, woodMu2013], [woodMu2011Hi, woodMu2012Hi, woodMu2013Hi], [woodMu2011Lo, woodMu2012Lo, woodMu2013Lo], smoothX, smoothX, true, true);
addPanel('2', [woodDay2011, woodDay2012, woodDay2013], [woodDay2011Hi, woodDay2012Hi, woodDay2013Hi], [woodDay2011Lo, woodDay2012Lo, woodDay2013Lo], v => daysOf(v, DAILY_STEP), v => daysOf(v, BAND_STEP), false, false);
addPanel('3', [cropMu2011, cropMu2012, cropMu2013], [cropMu2011Hi, cropMu2012Hi, cropMu2013Hi], [cropMu2011Lo, cropMu2012Lo, cropMu2013Lo], smoothX, smoothX, true, false);
addPanel('4', [cropDay2011, cropDay2012, cropDay2013], [cropDay2011Hi, cropDay2012Hi, cropDay2013Hi], [cropDay2011Lo, cropDay2012Lo, cropDay2013Lo], v => daysOf(v, DAILY_STEP), v => daysOf(v, BAND_STEP), false, false);
addPanel('5', [marshMu2011, marshMu2012, marshMu2013], [marshMu2011Hi, marshMu2012Hi, marshMu2013Hi], [marshMu2011Lo, marshMu2012Lo, marshMu2013Lo], smoothX, smoothX, true, false);
addPanel('6', [marshDay2011, marshDay2012, marshDay2013], [marshDay2011Hi, marshDay2012Hi, marshDay2013Hi], [marshDay2011Lo, marshDay2012Lo, marshDay2013Lo], v => daysOf(v, DAILY_STEP), v => daysOf(v, BAND_STEP), false, false);

const COL_L = [px(131), px(571)], COL_R = [px(576), px(1016)];
const ROWS = [[py(278), py(33)], [py(529), py(285)], [py(745), py(535)]];
const Y_RANGES = [[0, 10], [0, 10], [0, 8.08]];
const Y_TICKS = [[0, 3, 6, 9], [0, 3, 6, 9], [0, 2, 4, 6]];
const TICK_SIZE = 18;

const layout = {
  width: W, height: H, margin: {l: 0, r: 0, t: 0, b: 0},
  paper_bgcolor: '#ffffff', plot_bgcolor: '#ffffff',
  font: {family: FONT, size: TICK_SIZE, color: '#222'},
  showlegend: true,
  annotations: []
};
[50, 69, 88].forEach((top, k) => {
  layout[LEGEND_IDS[k]] = {x: px(144), y: py(top), xanchor: 'left', yanchor: 'top', bgcolor: 'rgba(0,0,0,0)',
                            font: {size: 16, color: '#222'}, itemwidth: 30, borderwidth: 0};
});
const axNames = ['', '2', '3', '4', '5', '6'];
axNames.forEach((n, i) => {
  const row = Math.floor(i / 2), right = i % 2 === 1, bottom = row === 2;
  layout['xaxis' + n] = {
    domain: right ? COL_R : COL_L, range: [0, 365], anchor: 'y' + n,
    showline: true, mirror: true, linecolor: '#222', linewidth: 1.7,
    showgrid: false, zeroline: false,
    ticks: bottom ? 'outside' : '', ticklen: 7, tickwidth: 1.3, tickcolor: '#222',
    showticklabels: bottom, tickmode: 'array', tickvals: X_TICKS, ticklabelstandoff: 11,
    tickfont: {size: TICK_SIZE, color: '#222'}
  };
  layout['yaxis' + n] = {
    domain: ROWS[row], range: Y_RANGES[row], anchor: 'x' + n,
    showline: true, mirror: true, linecolor: '#222', linewidth: 1.7,
    showgrid: false, zeroline: false,
    ticks: right ? '' : 'outside', ticklen: 7, tickwidth: 1.3, tickcolor: '#222',
    showticklabels: !right, tickmode: 'array', tickvals: Y_TICKS[row], ticklabelstandoff: 3,
    tickfont: {size: TICK_SIZE, color: '#222'}
  };
});

const ann = layout.annotations;
['(a)', '(b)', '(c)', '(d)', '(e)', '(f)'].forEach((t, i) => {
  const row = Math.floor(i / 2), right = i % 2 === 1;
  const tops = [33, 285, 535];
  ann.push({text: '<b>' + t + '</b>', xref: 'paper', yref: 'paper', x: px(right ? 576 : 131), y: py(tops[row] - 2),
            xanchor: 'left', yanchor: 'top', showarrow: false, font: {size: 21, color: '#111'}});
});
ann.push({text: 'μ<sub>Rref</sub>', xref: 'paper', yref: 'paper', x: px(351), y: py(16), xanchor: 'center', yanchor: 'middle',
          showarrow: false, font: {size: 22, color: '#222'}});
ann.push({text: 'μ<sub>Rref</sub> + σ<sub>Rref</sub>', xref: 'paper', yref: 'paper', x: px(796), y: py(16), xanchor: 'center', yanchor: 'middle',
          showarrow: false, font: {size: 22, color: '#222'}});
[['Woodland', 155], ['Cropland', 405], ['Marsh', 620]].forEach(([t, y]) => {
  ann.push({text: '<b>' + t + '</b>', xref: 'paper', yref: 'paper', x: px(30), y: py(y), xanchor: 'center', yanchor: 'middle',
            textangle: -90, showarrow: false, font: {size: 24, color: '#111'}});
});
ann.push({text: 'R<sub>ref</sub> (μ mol m<sup>−2</sup> s<sup>−1</sup>)', xref: 'paper', yref: 'paper', x: px(64), y: py(410),
          xanchor: 'center', yanchor: 'middle', textangle: -90, showarrow: false, font: {size: 23, color: '#222'}});
ann.push({text: 'Day of year', xref: 'paper', yref: 'paper', x: px(563), y: py(814), xanchor: 'center', yanchor: 'middle',
          showarrow: false, font: {size: 23, color: '#222'}});

Plotly.newPlot('chart', traces, layout, {staticPlot: true, displayModeBar: false});
</script>
</body></html>
